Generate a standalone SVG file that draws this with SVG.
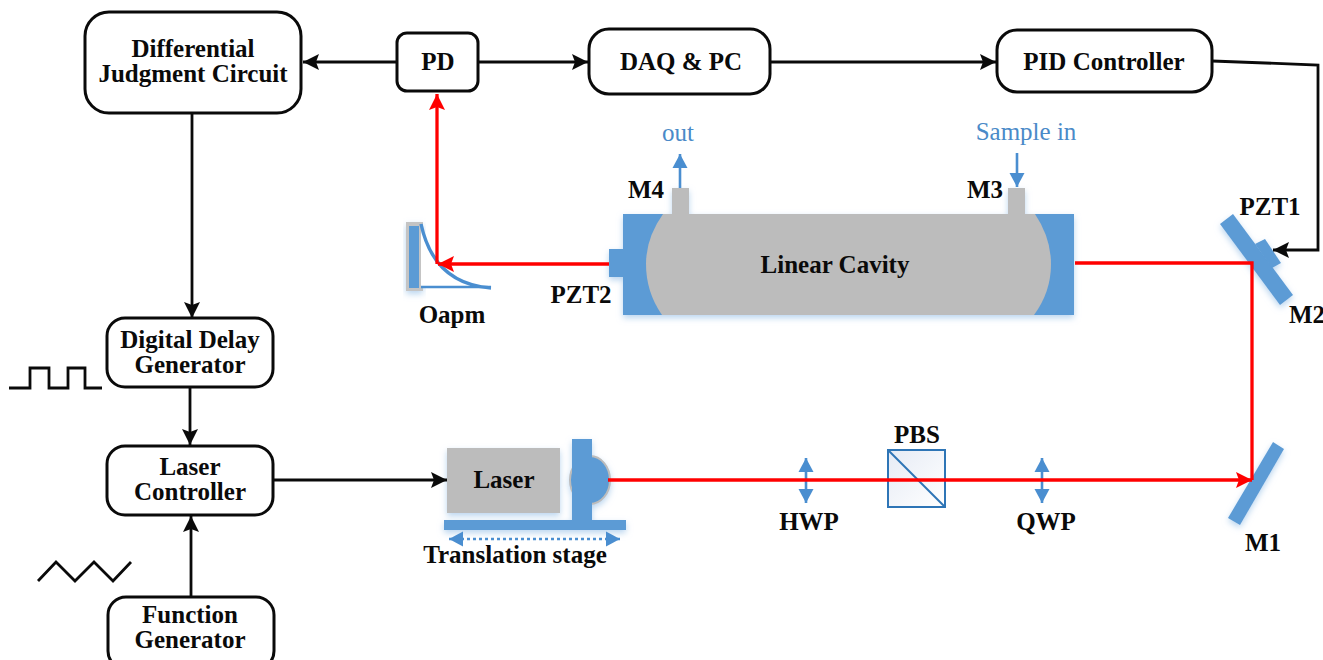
<svg xmlns="http://www.w3.org/2000/svg" width="1323" height="660" viewBox="0 0 1323 660">
<style>
text{font-family:"Liberation Serif","Times New Roman",serif;font-weight:bold;fill:#0a0a0a;text-anchor:middle}
.t{font-size:25px}
.l{font-size:25px}
.b{fill:#fff;stroke:#0a0a0a;stroke-width:3}
.k{fill:none;stroke:#0a0a0a;stroke-width:2.8}
.r{fill:none;stroke:#ff0000;stroke-width:3.3}
.u{fill:#5b9bd5}
.ul{fill:none;stroke:#4a8ed0;stroke-width:2.6}
.g{fill:#bcbcbc}
.bl{font-weight:normal;fill:#4a8ac8;font-size:25px}
</style>
<defs>
<marker id="ak" markerUnits="userSpaceOnUse" markerWidth="18" markerHeight="18" refX="16" refY="8.5" orient="auto"><path d="M0 0.5L16 8.5L0 16.5L3 8.5Z" fill="#0a0a0a"/></marker>
<marker id="ar" markerUnits="userSpaceOnUse" markerWidth="18" markerHeight="18" refX="16" refY="8.5" orient="auto"><path d="M0 0.5L16 8.5L0 16.5L3 8.5Z" fill="#ff0000"/></marker>
<marker id="au" markerUnits="userSpaceOnUse" markerWidth="16" markerHeight="16" refX="14" refY="8" orient="auto"><path d="M0 0.5L14 8L0 15.5Z" fill="#4a8ed0"/></marker>
<marker id="as" markerUnits="userSpaceOnUse" markerWidth="16" markerHeight="16" refX="0" refY="8" orient="auto"><path d="M14 0.5L0 8L14 15.5Z" fill="#4a8ed0"/></marker>
<filter id="s" x="-15%" y="-15%" width="130%" height="135%"><feDropShadow dx="0" dy="3" stdDeviation="3" flood-color="#9cc3e8" flood-opacity=".7"/></filter>
<linearGradient id="pg" x1="0" y1="0" x2="1" y2="1"><stop offset="0" stop-color="#e6ebf5"/><stop offset="1" stop-color="#fff"/></linearGradient>
</defs>

<g id="cavity">
<g filter="url(#s)">
<rect class="u" x="623" y="214" width="451" height="101"/>
<rect class="u" x="609" y="249" width="15" height="28"/>
<rect class="g" x="672" y="188" width="17" height="27"/>
<rect class="g" x="1008" y="188" width="17" height="27"/>
</g>
<path class="g" d="M663 214H1035Q1051 238 1051 264Q1051 292 1034 315H662Q646 292 646 264Q646 238 663 214Z"/>
<rect class="g" x="672" y="210" width="17" height="5"/>
<rect class="g" x="1008" y="210" width="17" height="5"/>
<text class="t" x="835" y="273">Linear Cavity</text>
<text class="l" x="646" y="198">M4</text>
<text class="l" x="985" y="198">M3</text>
<text class="l" x="581" y="303">PZT2</text>
</g>

<g id="oapm">
<rect x="406" y="222" width="17" height="69" fill="#c4c4c4" filter="url(#s)"/>
<rect class="u" x="409" y="226" width="10" height="62"/>
<path d="M421 224Q434 284 491 288H421Z" fill="#fff"/>
<path class="ul" d="M421 287H491"/>
<path d="M421 224Q434 284 491 288" fill="none" stroke="#4a8ed0" stroke-width="3.4"/>
<text class="l" x="452" y="323">Oapm</text>
</g>

<g id="m2">
<g filter="url(#s)"><path class="u" d="M1220 224L1233 214L1293 295L1280 305Z"/><path class="u" d="M1255 244L1265 239L1281 263L1272 268Z"/></g>
<text class="l" x="1270" y="215">PZT1</text>
<text class="l" x="1307" y="323">M2</text>
</g>

<g id="m1">
<path class="u" filter="url(#s)" d="M1228 518L1273 442L1284 449L1240 525Z"/>
<text class="l" x="1263" y="551">M1</text>
</g>

<g id="laser">
<g filter="url(#s)">
<rect class="g" x="447" y="448" width="113" height="65"/>
<ellipse cx="590" cy="480" rx="20" ry="24" fill="#5b9bd5" stroke="#bcbcbc" stroke-width="2"/>
<rect class="u" x="572" y="439" width="20" height="85"/>
<rect class="u" x="444" y="520" width="182" height="10"/>
</g>
<text class="t" x="504" y="488">Laser</text>
<path d="M449 539H620" stroke="#4a8ed0" stroke-width="2.5" stroke-dasharray="3 3" fill="none" marker-start="url(#as)" marker-end="url(#au)"/>
<text class="t" x="515" y="563">Translation stage</text>
</g>

<g id="pbs">
<rect x="888" y="450" width="57" height="57" fill="url(#pg)" stroke="#2e75b6" stroke-width="2"/>
<path d="M888 450L945 507" stroke="#2e75b6" stroke-width="2" fill="none"/>
<text class="l" x="917" y="443">PBS</text>
</g>

<g id="hwp">
<path class="ul" d="M806 458V503" marker-start="url(#as)" marker-end="url(#au)"/>
<text class="l" x="809" y="530">HWP</text>
</g>
<g id="qwp">
<path class="ul" d="M1042 458V503" marker-start="url(#as)" marker-end="url(#au)"/>
<text class="l" x="1046" y="530">QWP</text>
</g>

<g id="out">
<path class="ul" d="M680 188V154" marker-end="url(#au)"/>
<text class="bl" x="678" y="141">out</text>
</g>
<g id="sample">
<path class="ul" d="M1017 153V187" marker-end="url(#au)"/>
<text class="bl" x="1026" y="140">Sample in</text>
</g>

<g id="connectors">
<path class="k" d="M396 62H303" marker-end="url(#ak)"/>
<path class="k" d="M478 62H588" marker-end="url(#ak)"/>
<path class="k" d="M770 62H996" marker-end="url(#ak)"/>
<path class="k" d="M1212 61L1318 65V250H1273" marker-end="url(#ak)"/>
<path class="k" d="M192 113V318" marker-end="url(#ak)"/>
<path class="k" d="M190 388V445" marker-end="url(#ak)"/>
<path class="k" d="M191 596V516" marker-end="url(#ak)"/>
<path class="k" d="M274 480H447" marker-end="url(#ak)"/>
<path class="r" d="M1075 263H1252V480"/>
<path class="r" d="M608 480H1252" marker-end="url(#ar)"/>
<path class="r" d="M609 264H438" marker-end="url(#ar)"/>
<path class="r" d="M437 264V94" marker-end="url(#ar)"/>
</g>

<g id="dj">
<rect class="b" x="85" y="12" width="216" height="101" rx="24"/>
<text class="t" x="193" y="57">Differential</text>
<text class="t" x="193" y="82">Judgment Circuit</text>
</g>
<g id="pd">
<rect class="b" x="397" y="33" width="81" height="58" rx="10"/>
<text class="t" x="438" y="70">PD</text>
</g>
<g id="daq">
<rect class="b" x="589" y="29" width="181" height="65" rx="20"/>
<text class="t" x="681" y="70">DAQ &amp; PC</text>
</g>
<g id="pid">
<rect class="b" x="997" y="30" width="215" height="62" rx="20"/>
<text class="t" x="1104" y="70">PID Controller</text>
</g>
<g id="ddg">
<rect class="b" x="107" y="318" width="166" height="69" rx="18"/>
<text class="t" x="190" y="348">Digital Delay</text>
<text class="t" x="190" y="373">Generator</text>
</g>
<g id="lc">
<rect class="b" x="107" y="446" width="166" height="69" rx="18"/>
<text class="t" x="190" y="475">Laser</text>
<text class="t" x="190" y="500">Controller</text>
</g>
<g id="fg">
<rect class="b" x="108" y="597" width="166" height="72" rx="18"/>
<text class="t" x="190" y="623">Function</text>
<text class="t" x="190" y="648">Generator</text>
</g>
<g id="pulse"><path class="k" d="M9 388H30V368H49V388H68V368H85V388H102"/></g>
<g id="tri"><path class="k" d="M38 581L56 562L75 581L94 562L113 581L131 562"/></g>
</svg>
